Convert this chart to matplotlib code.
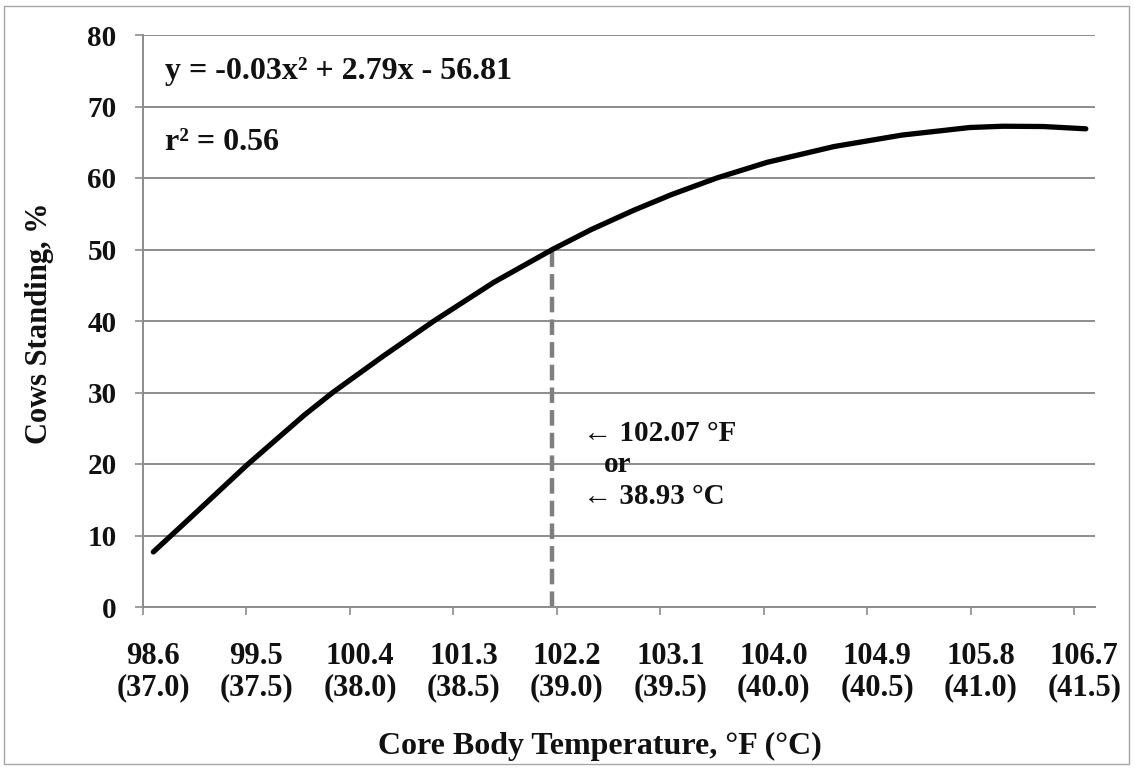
import matplotlib
matplotlib.use("Agg")
import matplotlib.pyplot as plt
import matplotlib.transforms as mtransforms
from matplotlib.patches import Rectangle

plt.rcParams['font.family'] = ['Liberation Serif', 'DejaVu Serif']
plt.rcParams['font.weight'] = 'bold'

# Curve values (°F, % cows standing)
temp_f = [98.69, 99.00, 99.50, 100.00, 100.25, 100.69, 101.13, 101.65, 102.16,
          102.50, 102.87, 103.20, 103.59, 104.03, 104.61, 105.20, 105.79,
          106.08, 106.43, 106.80]
standing = [7.7, 12.3, 19.8, 26.8, 30.0, 35.1, 40.0, 45.4, 50.0,
            52.8, 55.5, 57.7, 60.0, 62.2, 64.4, 66.0, 67.06,
            67.24, 67.2, 66.88]

tick_f = [98.6, 99.5, 100.4, 101.3, 102.2, 103.1, 104.0, 104.9, 105.8, 106.7]
tick_c = ["37.0", "37.5", "38.0", "38.5", "39.0", "39.5", "40.0", "40.5", "41.0", "41.5"]
y_ticks = [0, 10, 20, 30, 40, 50, 60, 70, 80]

threshold_x = 102.16
threshold_y = 50.0

W, H = 1135, 770
fig = plt.figure(figsize=(W / 100, H / 100), dpi=100)
fig.patch.set_facecolor('white')

# chart-area border
fig.patches.append(Rectangle((4 / W, 6 / H), (1129 - 4) / W, (764 - 6) / H,
                             transform=fig.transFigure, fill=False,
                             edgecolor='#a6a6a6', linewidth=1.0))

ax = fig.add_axes([143 / W, 1 - 607 / H, (1095 - 143) / W, (607 - 35) / H])
ax.set_xlim(98.6, 106.88)
ax.set_ylim(0, 80)

grid_c = '#8c8c8c'
txt_c = '#111111'
ax.set_yticks(y_ticks)
ax.yaxis.grid(True, color=grid_c, linewidth=1.4)
ax.set_axisbelow(True)
for s in ['top', 'right']:
    ax.spines[s].set_visible(False)
for s in ['left', 'bottom']:
    ax.spines[s].set_color(grid_c)
    ax.spines[s].set_linewidth(1.4)

ax.set_xticks(tick_f)
ax.set_xticklabels([f"{f:.1f}\n({c})" for f, c in zip(tick_f, tick_c)],
                   linespacing=1.12)
ax.tick_params(axis='x', direction='out', length=6, width=1.2, color=grid_c,
               labelsize=22, pad=19, labelcolor=txt_c)
ax.tick_params(axis='y', direction='out', length=6, width=1.2, color=grid_c,
               labelsize=21, pad=13, labelcolor=txt_c)
offset = mtransforms.ScaledTranslation(10 / 100, 0, fig.dpi_scale_trans)
for lab in ax.get_xticklabels():
    lab.set_transform(lab.get_transform() + offset)
    lab.set_fontweight('bold')
for lab in ax.get_yticklabels():
    lab.set_fontweight('bold')

ax.plot(temp_f, standing, color='black', linewidth=3.8, solid_capstyle='round',
        solid_joinstyle='round', zorder=3)
ax.plot([threshold_x, threshold_x], [0, threshold_y], color='#7f7f7f',
        linewidth=3.2, linestyle=(0, (3.5, 1.6)), zorder=2)

ax.text(98.79, 74.9, "y = -0.03x² + 2.79x - 56.81", fontsize=23,
        fontweight='bold', va='center', ha='left', color=txt_c)
ax.text(98.79, 65.0, "r² = 0.56", fontsize=23, fontweight='bold',
        va='center', ha='left', color=txt_c)

ax.text(102.43, 24.3, "← 102.07 °F", fontsize=21, fontweight='bold',
        va='center', ha='left', color=txt_c)
ax.text(102.73, 20.0, "or", fontsize=21, fontweight='bold',
        va='center', ha='center', color=txt_c)
ax.text(102.43, 15.5, "← 38.93 °C", fontsize=21, fontweight='bold',
        va='center', ha='left', color=txt_c)

fig.text(600 / W, 1 - 746 / H, "Core Body Temperature, °F (°C)", fontsize=23,
         fontweight='bold', ha='center', va='center', color=txt_c)
fig.text(40 / W, 1 - 323 / H, "Cows Standing, %", fontsize=22,
         fontweight='bold', ha='center', va='center', rotation=90,
         color=txt_c)

fig.savefig("out.png", dpi=100, facecolor='white')
